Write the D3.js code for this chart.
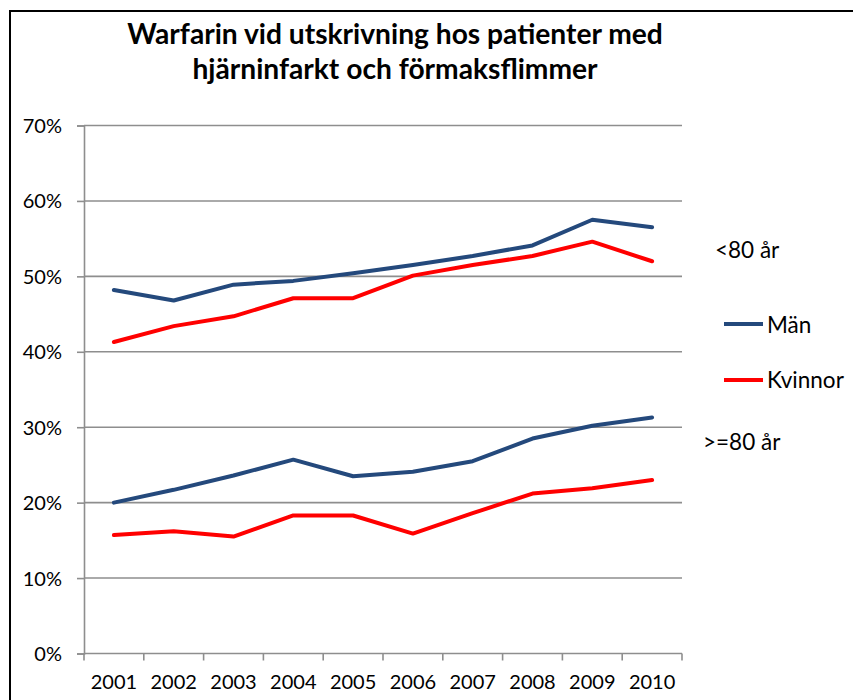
<!DOCTYPE html>
<html><head><meta charset="utf-8">
<script src="https://cdn.jsdelivr.net/npm/d3@7"></script>
<style>
html,body{margin:0;padding:0;background:#fff;}
svg{display:block;}
text{font-family:"Lato","Open Sans",sans-serif;fill:#000;}
</style></head>
<body>
<svg id="chart" width="853" height="700"></svg>
<script>
// ---- data ----
const years = ["2001","2002","2003","2004","2005","2006","2007","2008","2009","2010"];
const manUnder80     = [0.482,0.468,0.489,0.494,0.504,0.515,0.527,0.541,0.575,0.565];
const kvinnorUnder80 = [0.413,0.434,0.447,0.471,0.471,0.501,0.515,0.527,0.546,0.520];
const manOver80      = [0.200,0.217,0.236,0.257,0.235,0.241,0.255,0.285,0.302,0.313];
const kvinnorOver80  = [0.157,0.162,0.155,0.183,0.183,0.159,0.186,0.212,0.219,0.230];
const yTicks = [0,0.1,0.2,0.3,0.4,0.5,0.6,0.7];
const titleLines = ["Warfarin vid utskrivning hos patienter med","hjärninfarkt och förmaksflimmer"];
const seriesNames = ["Män","Kvinnor"];
const groupLabels = ["<80 år",">=80 år"];

const colMan = "#24497c", colKv = "#ff0000", gridCol = "#8e8e8e";

const svg = d3.select("#chart");

// frame
svg.append("rect").attr("x",10).attr("y",11).attr("width",900).attr("height",760)
  .attr("fill","none").attr("stroke","#000").attr("stroke-width",2);

const x = d3.scaleBand().domain(years).range([84,682]).paddingInner(0).paddingOuter(0);
const y = d3.scaleLinear().domain([0,0.7]).range([653.5,125.5]);
const cx = d => x(d) + x.bandwidth()/2;

// gridlines
svg.append("g").selectAll("line").data(yTicks.filter(t=>t>0)).join("line")
  .attr("x1",84).attr("x2",682).attr("y1",d=>y(d)).attr("y2",d=>y(d))
  .attr("stroke",gridCol).attr("stroke-width",1.6);

// y axis
const yAxis = svg.append("g").attr("transform","translate(84,0)")
  .call(d3.axisLeft(y).tickValues(yTicks).tickFormat(d3.format(".0%")).tickSize(7).tickPadding(15));
yAxis.select(".domain").attr("stroke",gridCol).attr("stroke-width",1.6);
yAxis.selectAll(".tick line").attr("stroke",gridCol).attr("stroke-width",1.6);
yAxis.selectAll(".tick text").attr("font-family","Lato").attr("font-size",20).attr("dy","0.35em");

// x axis
const xAxis = svg.append("g").attr("transform",`translate(0,${y(0)})`)
  .call(d3.axisBottom(x).tickSize(0).tickPadding(21));
xAxis.select(".domain").remove();
xAxis.selectAll(".tick text").attr("font-family","Lato").attr("font-size",20);
svg.append("line").attr("x1",84).attr("x2",682).attr("y1",y(0)).attr("y2",y(0))
  .attr("stroke",gridCol).attr("stroke-width",1.6);
const bounds = years.map(d=>x(d)).concat([x(years[years.length-1])+x.bandwidth()]);
svg.append("g").selectAll("line").data(bounds).join("line")
  .attr("x1",d=>d).attr("x2",d=>d).attr("y1",y(0)).attr("y2",y(0)+7)
  .attr("stroke",gridCol).attr("stroke-width",1.6);

// lines
const line = d3.line().x((d,i)=>cx(years[i])).y(d=>y(d));
[[manUnder80,colMan],[kvinnorUnder80,colKv],[manOver80,colMan],[kvinnorOver80,colKv]].forEach(([vals,c])=>{
  svg.append("path").datum(vals).attr("d",line).attr("fill","none")
    .attr("stroke",c).attr("stroke-width",4).attr("stroke-linejoin","round").attr("stroke-linecap","round");
});

// title
const tg = svg.append("g");
const t1 = tg.append("text").attr("x",395).attr("y",44).attr("text-anchor","middle")
  .attr("font-weight","bold").attr("font-size",24).text(titleLines[0]);
const w = t1.node().getComputedTextLength();
const fs = 24*536/w;
t1.attr("font-size",fs);
tg.append("text").attr("x",395).attr("y",79).attr("text-anchor","middle")
  .attr("font-weight","bold").attr("font-size",fs).text(titleLines[1]);

// legend
const lfs = 22.5;
svg.append("text").attr("x",715).attr("y",258).attr("font-size",lfs).text(groupLabels[0]);
svg.append("line").attr("x1",724).attr("x2",763).attr("y1",324).attr("y2",324).attr("stroke",colMan).attr("stroke-width",4);
svg.append("text").attr("x",767).attr("y",333).attr("font-size",lfs).text(seriesNames[0]);
svg.append("line").attr("x1",724).attr("x2",763).attr("y1",380).attr("y2",380).attr("stroke",colKv).attr("stroke-width",4);
svg.append("text").attr("x",767).attr("y",388).attr("font-size",lfs).text(seriesNames[1]);
svg.append("text").attr("x",703).attr("y",450).attr("font-size",lfs).text(groupLabels[1]);
</script>
</body></html>
